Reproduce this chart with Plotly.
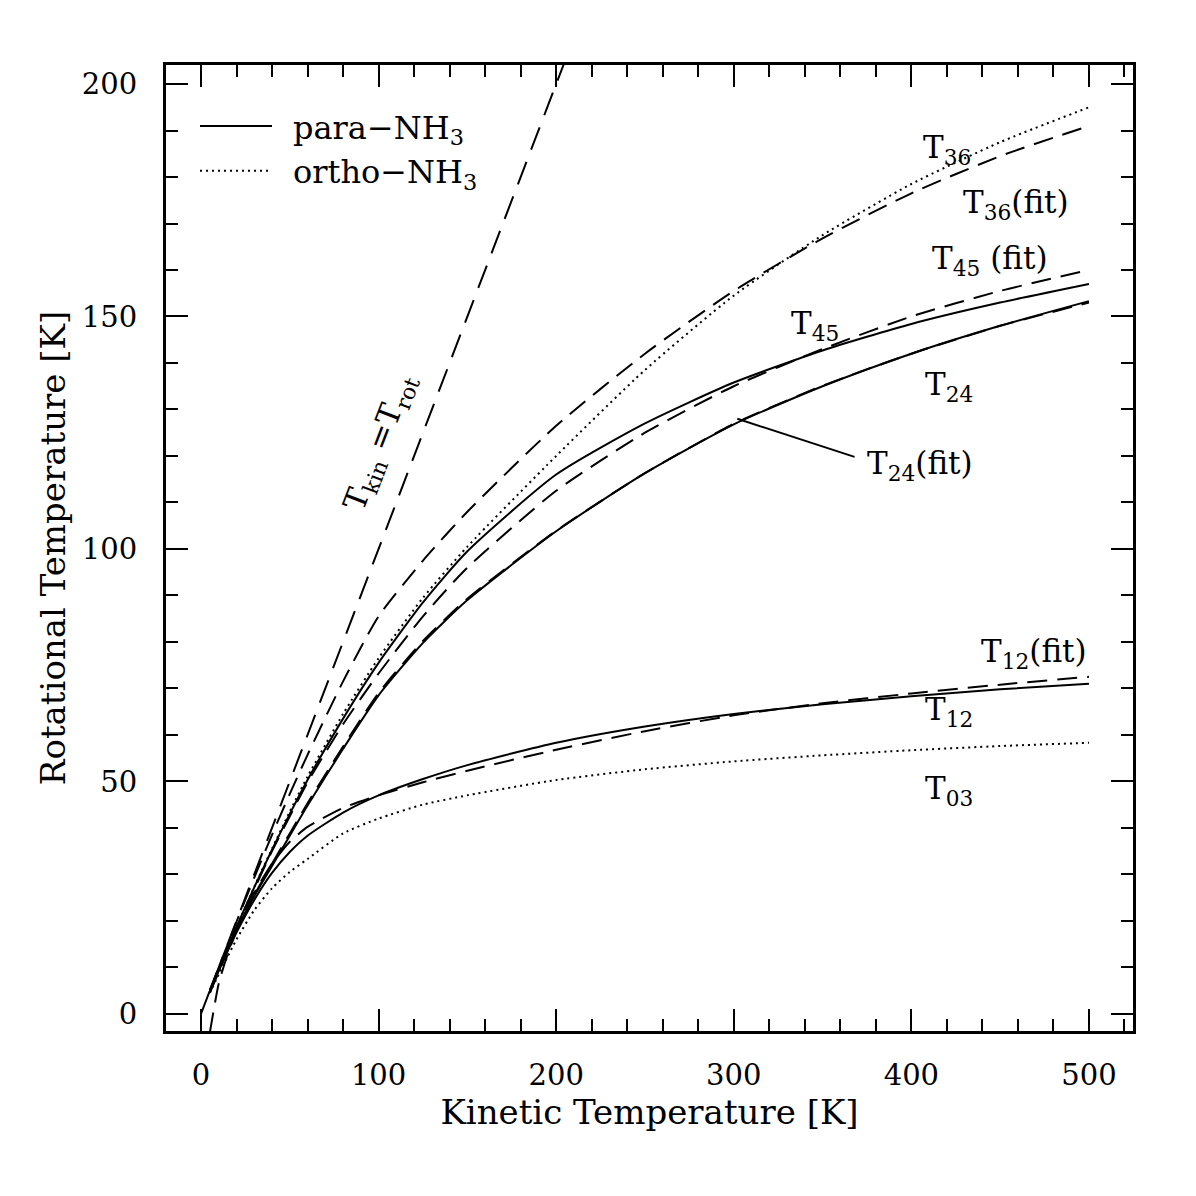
import plotly.graph_objects as go

# Kinetic temperature grid [K]
tk = [5, 10, 15, 20, 30, 40, 50, 60, 80, 100, 125, 150, 200, 250, 300, 350, 400, 450, 500]

# Rotational temperatures [K]
t12 = [4.8, 9.3, 13.5, 17.5, 24.5, 30.3, 34.8, 38.3, 43.3, 47.0, 50.5, 53.5, 58.3, 61.8, 64.5, 66.6, 68.3, 69.8, 71.0]
t12_fit = [5.2, 9.8, 14.3, 18.6, 26.0, 32.3, 37.0, 40.2, 44.3, 47.0, 49.8, 52.3, 56.8, 60.8, 64.2, 66.8, 68.9, 70.8, 72.5]
t03 = [4.5, 8.5, 12.3, 16.0, 22.3, 27.0, 30.5, 33.3, 38.8, 42.0, 45.0, 47.0, 50.3, 52.6, 54.3, 55.6, 56.7, 57.6, 58.3]
t24 = [4.8, 9.3, 13.8, 18.0, 25.3, 31.8, 38.3, 44.8, 57.0, 68.5, 79.8, 89.0, 103.8, 116.3, 126.8, 135.0, 142.0, 148.0, 153.3]
t24_fit = [-4.0, 6.5, 12.8, 17.8, 25.5, 32.3, 38.8, 45.3, 57.5, 69.0, 80.2, 89.3, 103.9, 116.3, 126.9, 135.1, 142.0, 148.0, 153.0]
t45 = [4.9, 9.6, 14.2, 18.7, 27.2, 35.3, 43.0, 50.3, 63.5, 75.5, 88.5, 99.5, 116.0, 127.0, 135.8, 142.7, 148.4, 153.0, 157.0]
t45_fit = [4.5, 9.0, 13.6, 18.2, 26.8, 35.0, 42.5, 49.8, 62.3, 73.2, 85.5, 96.0, 112.5, 125.0, 135.0, 143.0, 150.0, 155.5, 160.0]
t36 = [4.8, 9.5, 14.2, 18.6, 27.3, 35.5, 43.5, 51.0, 64.5, 76.5, 89.5, 100.5, 120.0, 138.5, 154.5, 167.5, 178.5, 187.5, 195.0]
t36_fit = [5.0, 10.0, 14.9, 19.8, 29.3, 38.5, 47.3, 55.7, 71.5, 85.5, 97.5, 108.0, 126.5, 142.0, 155.5, 166.8, 176.5, 184.5, 191.0]

# Tkin = Trot line
equal_x = [0, 210]
equal_y = [0, 210]

x_ticks = [0, 100, 200, 300, 400, 500]
y_ticks = [0, 50, 100, 150, 200]

FONT = "DejaVu Serif"
DASH = "20px,10px"
DOT = "2px,4px"

fig = go.Figure()

def add(y, dash, name=None, show=False, width=2):
    fig.add_trace(go.Scatter(
        x=tk, y=y, mode="lines", name=name, showlegend=show,
        line=dict(color="black", width=width, dash=dash, shape="spline", smoothing=0.6),
        hoverinfo="skip"))

fig.add_trace(go.Scatter(x=equal_x, y=equal_y, mode="lines", showlegend=False,
                         line=dict(color="black", width=2, dash="24px,13px")))
add(t12, "solid", "\u2002para\u2212NH<sub>3</sub>", True)
add(t03, DOT, "\u2002ortho\u2212NH<sub>3</sub>", True)
add(t12_fit, DASH)
add(t24, "solid")
add(t24_fit, DASH)
add(t45, "solid")
add(t45_fit, DASH)
add(t36, DOT)
add(t36_fit, DASH)

labels = [
    ("T<sub>36</sub>", 420, 186),
    ("T<sub>36</sub>(fit)", 459, 174),
    ("T<sub>45</sub> (fit)", 444, 162),
    ("T<sub>45</sub>", 346, 148),
    ("T<sub>24</sub>", 421, 135),
    ("T<sub>24</sub>(fit)", 405, 118),
    ("T<sub>12</sub>(fit)", 469, 77.5),
    ("T<sub>12</sub>", 421, 65),
    ("T<sub>03</sub>", 421, 48),
]
for txt, lx, ly in labels:
    fig.add_annotation(x=lx, y=ly, text=txt, showarrow=False,
                       font=dict(family=FONT, size=31, color="black"))

fig.add_annotation(x=101, y=123, text="T<sub>kin</sub> =T<sub>rot</sub>", showarrow=False,
                   textangle=-69, font=dict(family=FONT, size=31, color="black"))

# pointer for T24(fit)
fig.add_shape(type="line", x0=302, y0=128, x1=368, y1=119.8,
              line=dict(color="black", width=2))

axis_common = dict(
    showline=True, linecolor="black", linewidth=3, mirror="ticks",
    ticks="inside", ticklen=22, tickwidth=2, tickcolor="black",
    showgrid=False, zeroline=False,
    tickfont=dict(family=FONT, size=29, color="black"),
)

fig.update_xaxes(range=[-19.7, 524.8], tickvals=x_ticks, ticklabelstandoff=16,
                 title=dict(text="Kinetic Temperature [K]", font=dict(family=FONT, size=34, color="black"), standoff=6),
                 minor=dict(dtick=20, tick0=0, ticklen=12, tickwidth=2, tickcolor="black", ticks="inside", showgrid=False),
                 **axis_common)
fig.update_yaxes(range=[-3.7, 204.1], tickvals=y_ticks, ticklabelstandoff=20,
                 title=dict(text="Rotational Temperature [K]", font=dict(family=FONT, size=34, color="black"), standoff=6),
                 minor=dict(dtick=10, tick0=0, ticklen=12, tickwidth=2, tickcolor="black", ticks="inside", showgrid=False),
                 **axis_common)

fig.update_layout(
    width=1196, height=1196,
    margin=dict(l=166, r=63, t=65, b=165),
    paper_bgcolor="white", plot_bgcolor="white",
    font=dict(family=FONT, color="black"),
    legend=dict(x=0.03, y=0.965, xanchor="left", yanchor="top",
                bgcolor="rgba(0,0,0,0)", font=dict(family=FONT, size=32, color="black"),
                itemwidth=72, tracegroupgap=0),
)

fig.write_html("out.html")
